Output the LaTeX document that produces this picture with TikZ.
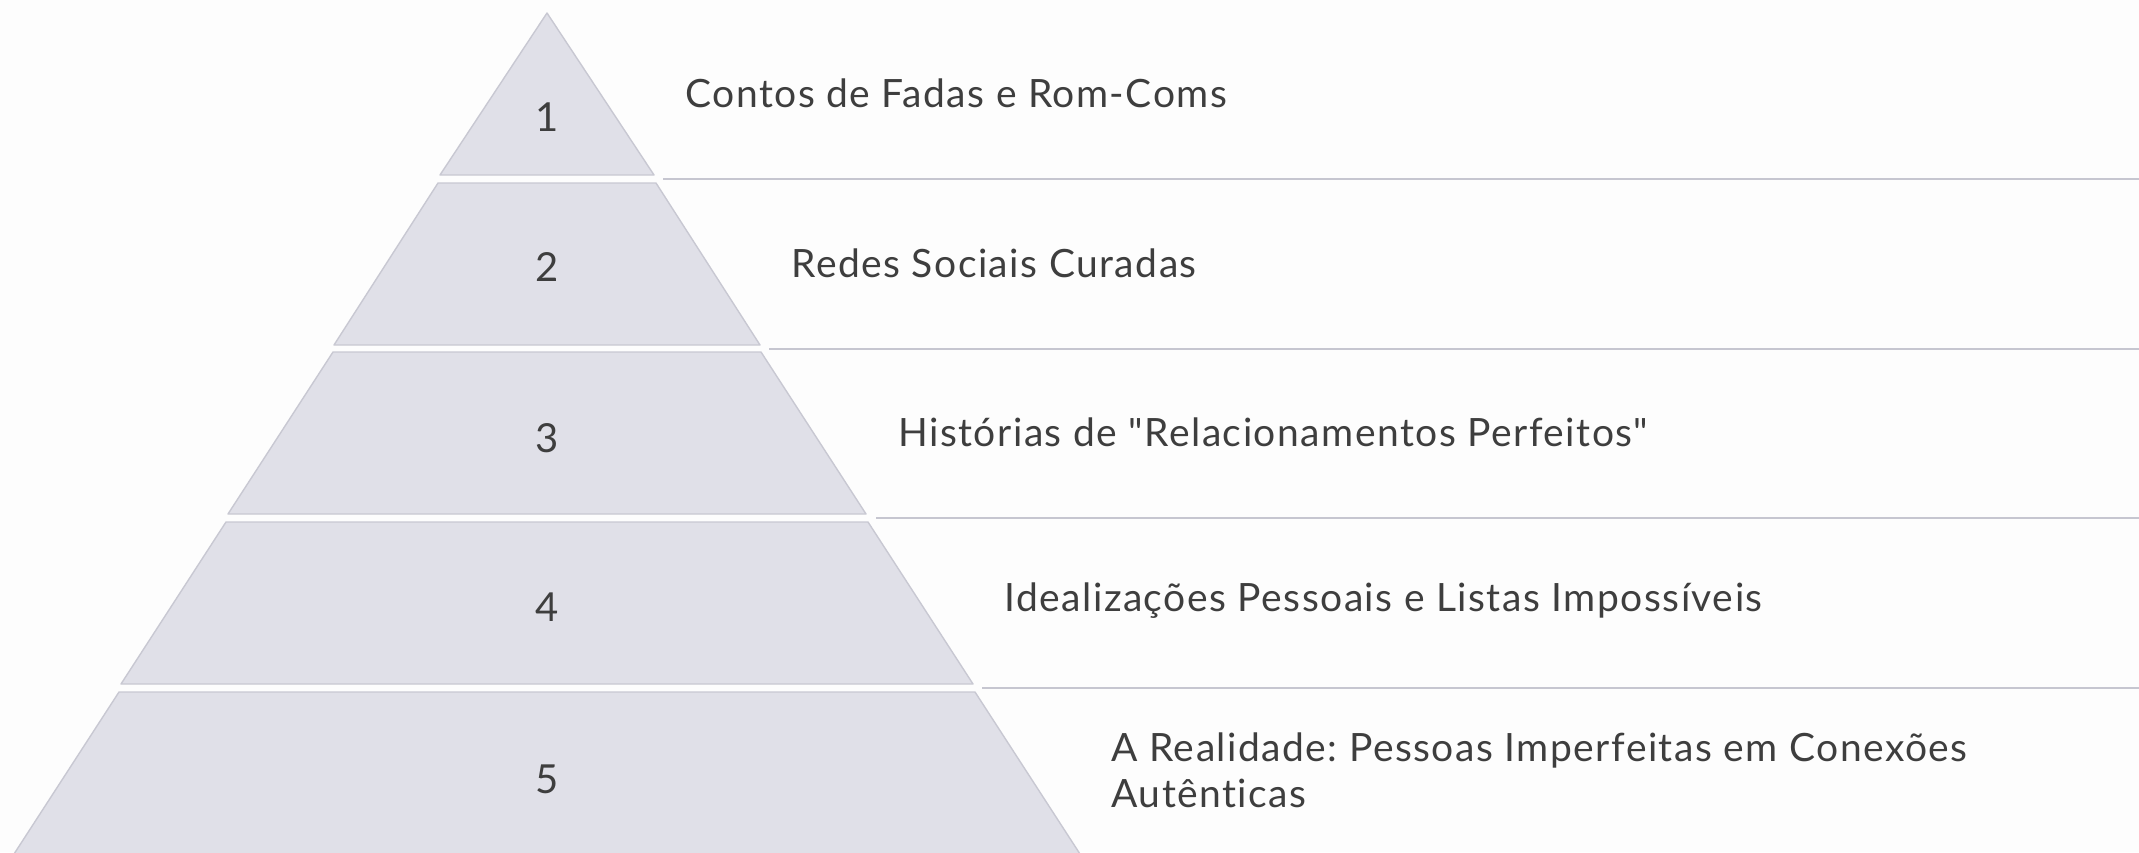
\documentclass[tikz,border=0pt]{standalone}
\usepackage{fontspec}
\setmainfont{Lato}[LetterSpace=3.8,Ligatures={TeXOff,CommonOff}]
\usepackage{tikz}
\usetikzlibrary{positioning}
\definecolor{bandfill}{HTML}{E0E0E8}
\definecolor{banddraw}{HTML}{C8C8D2}
\definecolor{sepline}{HTML}{C6C6D0}
\definecolor{txtgray}{HTML}{3E3E3E}
\definecolor{pagebg}{HTML}{FDFDFD}
\frenchspacing
\tikzset{every picture/.style={x=0.5pt,y=-0.5pt},
band/.style={fill=bandfill,draw=banddraw,line width=0.7pt,line join=round},
sep/.style={draw=sepline,line width=1pt},
num/.style={text=txtgray,font=\fontsize{20}{23}\selectfont,inner sep=0pt},
lbl/.style={text=txtgray,font=\fontsize{19.5}{23}\selectfont,anchor=west,align=left,inner sep=0pt}}

\begin{document}
\begin{tikzpicture}
\fill[pagebg] (0,0) rectangle (2139,852);
\useasboundingbox (0,0) rectangle (2139,852);
\draw[band] (547,13) -- (654,175) -- (440,175) -- cycle;
\draw[band] (438,183) -- (656,183) -- (760,345) -- (334,345) -- cycle;
\draw[band] (333,352) -- (761,352) -- (866,514) -- (228,514) -- cycle;
\draw[band] (226,522) -- (868,522) -- (973,684) -- (121,684) -- cycle;
\draw[band] (119,692) -- (975,692) -- (1080,854) -- (14,854) -- cycle;
\node[num] (n1) at (547,117) {1};
\node[num] (n2) at (547,267) {2};
\node[num] (n3) at (547,438) {3};
\node[num] (n4) at (547,607) {4};
\node[num] (n5) at (547,779) {5};
\coordinate (s1) at (663,179);
\coordinate (s2) at (769,349);
\coordinate (s3) at (876,518);
\coordinate (s4) at (982,688);
\coordinate (e1) at (2139,179);
\coordinate (e2) at (2139,349);
\coordinate (e3) at (2139,518);
\coordinate (e4) at (2139,688);
\draw[sep] (s1) -- (e1);
\draw[sep] (s2) -- (e2);
\draw[sep] (s3) -- (e3);
\draw[sep] (s4) -- (e4);
\node[lbl] (l1) at (685,93) {Contos de Fadas e Rom-Coms};
\node[lbl] (l2) at (791,263) {Redes Sociais Curadas};
\node[lbl] (l3) at (898,432) {Histórias de "Relacionamentos Perfeitos"};
\node[lbl] (l4) at (1004,601) {Idealizações Pessoais e Listas Impossíveis};
\node[lbl] (l5) at (1111,770) {A Realidade: Pessoas Imperfeitas em Conexões\\Autênticas};
\end{tikzpicture}
\end{document}
